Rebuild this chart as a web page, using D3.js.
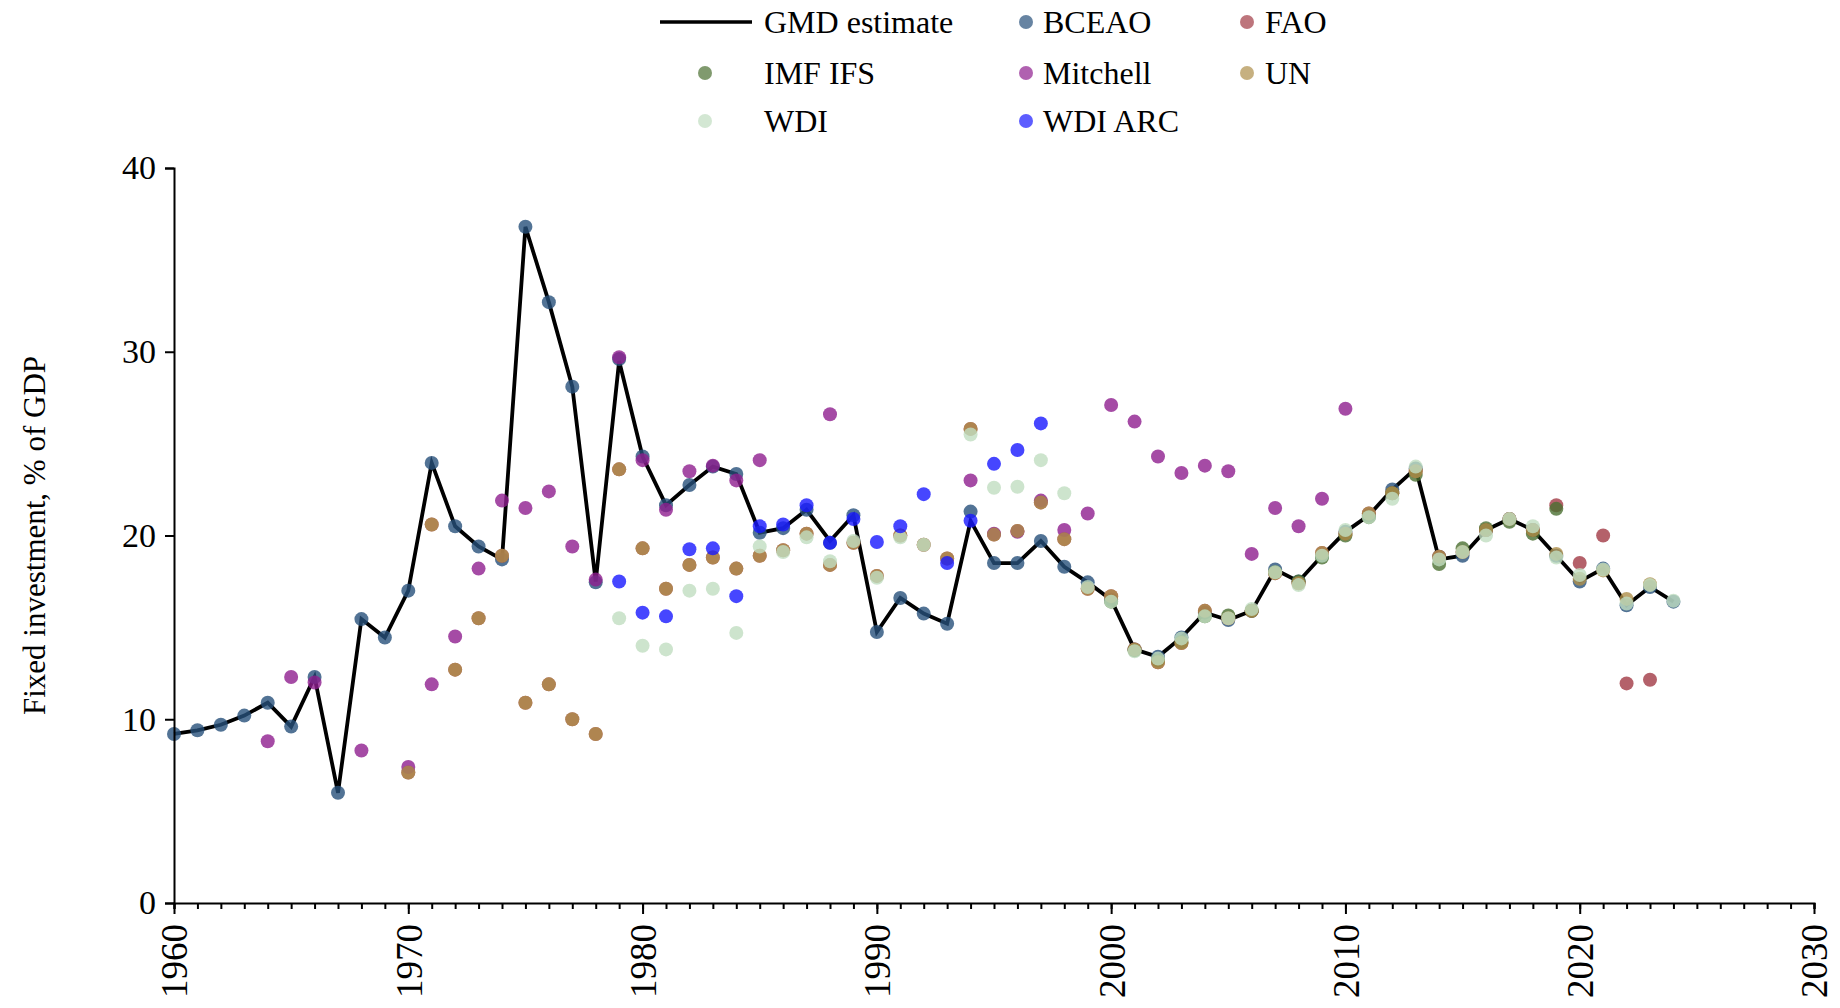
<!DOCTYPE html>
<html>
<head>
<meta charset="utf-8">
<script src="https://cdn.jsdelivr.net/npm/d3@7"></script>
<style>
  html, body { margin: 0; padding: 0; background: #fff; }
  svg { display: block; }
  text { font-family: "Liberation Serif", "Times New Roman", serif; fill: #000; }
</style>
</head>
<body>
<svg id="chart" width="1840" height="1008"></svg>
<script>
// ---------------- DATA ----------------
const gmd = [
  [1960,9.2],[1961,9.4],[1962,9.7],[1963,10.2],[1964,10.9],[1965,9.6],[1966,12.3],[1967,6.0],[1968,15.45],[1969,14.45],
  [1970,17.0],[1971,23.95],[1972,20.5],[1973,19.4],[1974,18.7],[1975,36.8],[1976,32.7],[1977,28.1],[1978,17.5],[1979,29.5],
  [1980,24.3],[1981,21.65],[1982,22.75],[1983,23.75],[1984,23.35],[1985,20.15],[1986,20.4],[1987,21.4],[1988,19.7],[1989,21.1],
  [1990,14.75],[1991,16.6],[1992,15.75],[1993,15.2],[1994,20.8],[1995,18.5],[1996,18.5],[1997,19.7],[1998,18.3],[1999,17.45],
  [2000,16.5],[2001,13.8],[2002,13.4],[2003,14.45],[2004,15.8],[2005,15.4],[2006,15.9],[2007,18.15],[2008,17.5],[2009,18.9],
  [2010,20.2],[2011,21.1],[2012,22.5],[2013,23.65],[2014,18.7],[2015,18.9],[2016,20.3],[2017,20.9],[2018,20.3],[2019,18.9],
  [2020,17.5],[2021,18.2],[2022,16.2],[2023,17.2],[2024,16.4]
];
const bceao = [
  [1960,9.2],[1961,9.4],[1962,9.7],[1963,10.2],[1964,10.9],[1965,9.6],[1966,12.3],[1967,6.0],[1968,15.45],[1969,14.45],
  [1970,17.0],[1971,23.95],[1972,20.5],[1973,19.4],[1974,18.7],[1975,36.8],[1976,32.7],[1977,28.1],[1978,17.45],[1979,29.6],
  [1980,24.3],[1981,21.65],[1982,22.75],[1983,23.75],[1984,23.35],[1985,20.15],[1986,20.4],[1987,21.4],[1988,19.6],[1989,21.1],
  [1990,14.75],[1991,16.6],[1992,15.75],[1993,15.2],[1994,21.3],[1995,18.5],[1996,18.5],[1997,19.7],[1998,18.3],[1999,17.45],
  [2000,16.5],[2001,13.8],[2002,13.4],[2003,14.45],[2004,15.8],[2005,15.4],[2006,15.9],[2007,18.15],[2008,17.5],[2009,18.9],
  [2010,20.2],[2011,21.1],[2012,22.5],[2013,23.65],[2014,18.85],[2015,18.9],[2016,20.3],[2017,20.9],[2018,20.3],[2019,18.9],
  [2020,17.5],[2021,18.2],[2022,16.2],[2023,17.2],[2024,16.4]
];
const fao = [
  [1970,7.1],[1971,20.6],[1972,12.7],[1973,15.5],[1974,18.9],[1975,10.9],[1976,11.9],[1977,10.0],[1978,9.2],[1979,23.6],
  [1980,19.3],[1981,17.1],[1982,18.4],[1983,18.8],[1984,18.2],[1985,18.9],[1986,19.2],[1987,20.1],[1988,18.4],[1989,19.6],
  [1990,17.8],[1991,20.0],[1992,19.5],[1993,18.75],[1994,25.8],[1995,20.05],[1996,20.25],[1997,21.8],[1998,19.8],[1999,17.1],
  [2000,16.7],[2001,13.8],[2002,13.1],[2003,14.15],[2004,15.9],[2005,15.5],[2006,15.9],[2007,17.95],[2008,17.4],[2009,19.05],
  [2010,20.1],[2011,21.2],[2012,22.3],[2013,23.5],[2014,18.85],[2015,19.1],[2016,20.3],[2017,20.9],[2018,20.3],
  [2019,21.65],[2020,18.5],[2021,20.0],[2022,11.95],[2023,12.15]
];
const imfIfs = [
  [2000,16.4],[2001,13.75],[2002,13.2],[2003,14.2],[2004,15.6],[2005,15.65],[2006,15.9],[2007,18.0],[2008,17.5],[2009,18.8],
  [2010,20.0],[2011,21.0],[2012,22.3],[2013,23.3],[2014,18.45],[2015,19.3],[2016,20.4],[2017,20.75],[2018,20.1],[2019,21.45]
];
const mitchell = [
  [1964,8.8],[1965,12.3],[1966,12.0],[1968,8.3],[1970,7.4],[1971,11.9],[1972,14.5],[1973,18.2],[1974,21.9],[1975,21.5],
  [1976,22.4],[1977,19.4],[1978,17.6],[1979,29.7],[1980,24.1],[1981,21.4],[1982,23.5],[1983,23.8],[1984,23.0],[1985,24.1],
  [1988,26.6],[1994,23.0],[1995,20.1],[1996,20.2],[1997,21.9],[1998,20.3],[1999,21.2],[2000,27.1],[2001,26.2],[2002,24.3],
  [2003,23.4],[2004,23.8],[2005,23.5],[2006,19.0],[2007,21.5],[2008,20.5],[2009,22.0],[2010,26.9]
];
const un = [
  [1970,7.1],[1971,20.6],[1972,12.7],[1973,15.5],[1974,18.9],[1975,10.9],[1976,11.9],[1977,10.0],[1978,9.2],[1979,23.6],
  [1980,19.3],[1981,17.1],[1982,18.4],[1983,18.8],[1984,18.2],[1985,18.9],[1986,19.2],[1987,20.1],[1988,18.4],[1989,19.6],
  [1990,17.8],[1991,20.0],[1992,19.5],[1993,18.75],[1994,25.8],[1995,20.05],[1996,20.25],[1997,21.8],[1998,19.8],[1999,17.1],
  [2000,16.7],[2001,13.8],[2002,13.1],[2003,14.15],[2004,15.9],[2005,15.5],[2006,15.9],[2007,17.95],[2008,17.4],[2009,19.05],
  [2010,20.1],[2011,21.2],[2012,22.3],[2013,23.5],[2014,18.85],[2015,19.1],[2016,20.3],[2017,20.9],[2018,20.3],[2019,19.0],
  [2020,17.65],[2021,18.1],[2022,16.55],[2023,17.35]
];
const wdi = [
  [1979,15.5],[1980,14.0],[1981,13.8],[1982,17.0],[1983,17.1],[1984,14.7],[1985,19.4],[1986,19.1],[1987,19.9],[1988,18.6],
  [1989,19.7],[1990,17.7],[1991,19.9],[1992,19.5],[1994,25.5],[1995,22.6],[1996,22.65],[1997,24.1],[1998,22.3],[1999,17.2],
  [2000,16.4],[2001,13.7],[2002,13.3],[2003,14.4],[2004,15.6],[2005,15.5],[2006,16.0],[2007,18.0],[2008,17.3],[2009,18.9],
  [2010,20.3],[2011,21.0],[2012,22.0],[2013,23.75],[2014,18.7],[2015,19.1],[2016,20.0],[2017,20.9],[2018,20.5],[2019,18.8],
  [2020,17.85],[2021,18.15],[2022,16.3],[2023,17.3],[2024,16.45]
];
const wdiArc = [
  [1979,17.5],[1980,15.8],[1981,15.6],[1982,19.25],[1983,19.3],[1984,16.7],[1985,20.5],[1986,20.6],[1987,21.65],[1988,19.6],
  [1989,20.9],[1990,19.65],[1991,20.5],[1992,22.25],[1993,18.5],[1994,20.8],[1995,23.9],[1996,24.65],[1997,26.1]
];

const sourceNames  = ["BCEAO","FAO","IMF IFS","Mitchell","UN","WDI","WDI ARC"];
const sourceData   = [bceao, fao, imfIfs, mitchell, un, wdi, wdiArc];
const sourceColors = ["#27507a","#a13a45","#4a6f31","#8e1e8e","#ae8e4a","#c0ddc0","#1818ff"];

const yTicks = [0,10,20,30,40];
const xMajorTicks = [1960,1970,1980,1990,2000,2010,2020,2030];
const yLabel = "Fixed investment, % of GDP";
const lineLabel = "GMD estimate";

// ---------------- LAYOUT ----------------
const svg = d3.select("#chart");
const x0 = 174, x1 = 1814, yTop = 168, yBot = 903;
const x = d3.scaleLinear().domain([1960, 2030]).range([x0, x1]);
const y = d3.scaleLinear().domain([0, 40]).range([yBot, yTop]);
const ptOpacity = 0.8, ptR = 7;

// GMD line (drawn under the points)
svg.append("path")
  .datum(gmd)
  .attr("fill", "none")
  .attr("stroke", "#000")
  .attr("stroke-width", 3.8)
  .attr("stroke-linejoin", "miter")
  .attr("d", d3.line().x(d => x(d[0])).y(d => y(d[1])));

// Source points
sourceData.forEach((data, i) => {
  svg.append("g").selectAll("circle")
    .data(data).join("circle")
    .attr("cx", d => x(d[0]))
    .attr("cy", d => y(d[1]))
    .attr("r", ptR)
    .attr("fill", sourceColors[i])
    .attr("fill-opacity", ptOpacity);
});

// Y axis
const yAxis = svg.append("g")
  .attr("transform", `translate(${x0},0)`)
  .call(d3.axisLeft(y).tickValues(yTicks).tickSize(9).tickPadding(9).tickFormat(d3.format("d")));
yAxis.select(".domain").attr("stroke", "#000").attr("stroke-width", 2);
yAxis.selectAll(".tick line").attr("stroke", "#000").attr("stroke-width", 2);
yAxis.selectAll(".tick text")
  .style("font-family", '"Liberation Serif", serif')
  .style("font-size", "34px").attr("fill", "#000");

// X axis, minor ticks (every year)
const xMinor = svg.append("g")
  .attr("transform", `translate(0,${yBot})`)
  .call(d3.axisBottom(x).tickValues(d3.range(1960, 2031)).tickSize(6).tickFormat(""));
xMinor.select(".domain").attr("stroke", "#000").attr("stroke-width", 2);
xMinor.selectAll(".tick line").attr("stroke", "#000").attr("stroke-width", 2);

// X axis, major ticks with rotated labels
const xAxis = svg.append("g")
  .attr("transform", `translate(0,${yBot})`)
  .call(d3.axisBottom(x).tickValues(xMajorTicks).tickSize(11).tickFormat(d3.format("d")));
xAxis.select(".domain").remove();
xAxis.selectAll(".tick line").attr("stroke", "#000").attr("stroke-width", 2);
xAxis.selectAll(".tick text")
  .style("font-family", '"Liberation Serif", serif')
  .style("font-size", "37px").attr("fill", "#000")
  .attr("text-anchor", "end")
  .attr("transform", "rotate(-90)")
  .attr("x", -21).attr("y", 0).attr("dy", "0.35em");

// Y axis title
svg.append("text")
  .attr("transform", `translate(38,${(yTop + yBot) / 2}) rotate(-90)`)
  .attr("text-anchor", "middle")
  .attr("dominant-baseline", "middle")
  .style("font-size", "31px")
  .text(yLabel);

// ---------------- LEGEND ----------------
const leg = svg.append("g");
const rowsY = [22, 73, 121];
const colMarkerX = [705, 1026, 1247];
const colTextX = [764, 1043, 1265];
// GMD estimate line entry
leg.append("line").attr("x1", 660).attr("x2", 752).attr("y1", rowsY[0]).attr("y2", rowsY[0])
  .attr("stroke", "#000").attr("stroke-width", 3.5);
leg.append("text").attr("x", colTextX[0]).attr("y", rowsY[0]).attr("dy", "0.35em")
  .style("font-size", "32px").text(lineLabel);
// Point entries: order fills row by row after the line entry
const slots = [[0,1],[0,2],[1,0],[1,1],[1,2],[2,0],[2,1]];
sourceNames.forEach((name, i) => {
  const [r, c] = slots[i];
  leg.append("circle").attr("cx", colMarkerX[c]).attr("cy", rowsY[r]).attr("r", ptR)
    .attr("fill", sourceColors[i]).attr("fill-opacity", 0.7);
  leg.append("text").attr("x", colTextX[c]).attr("y", rowsY[r]).attr("dy", "0.35em")
    .style("font-size", "32px").text(name);
});
</script>
</body>
</html>
